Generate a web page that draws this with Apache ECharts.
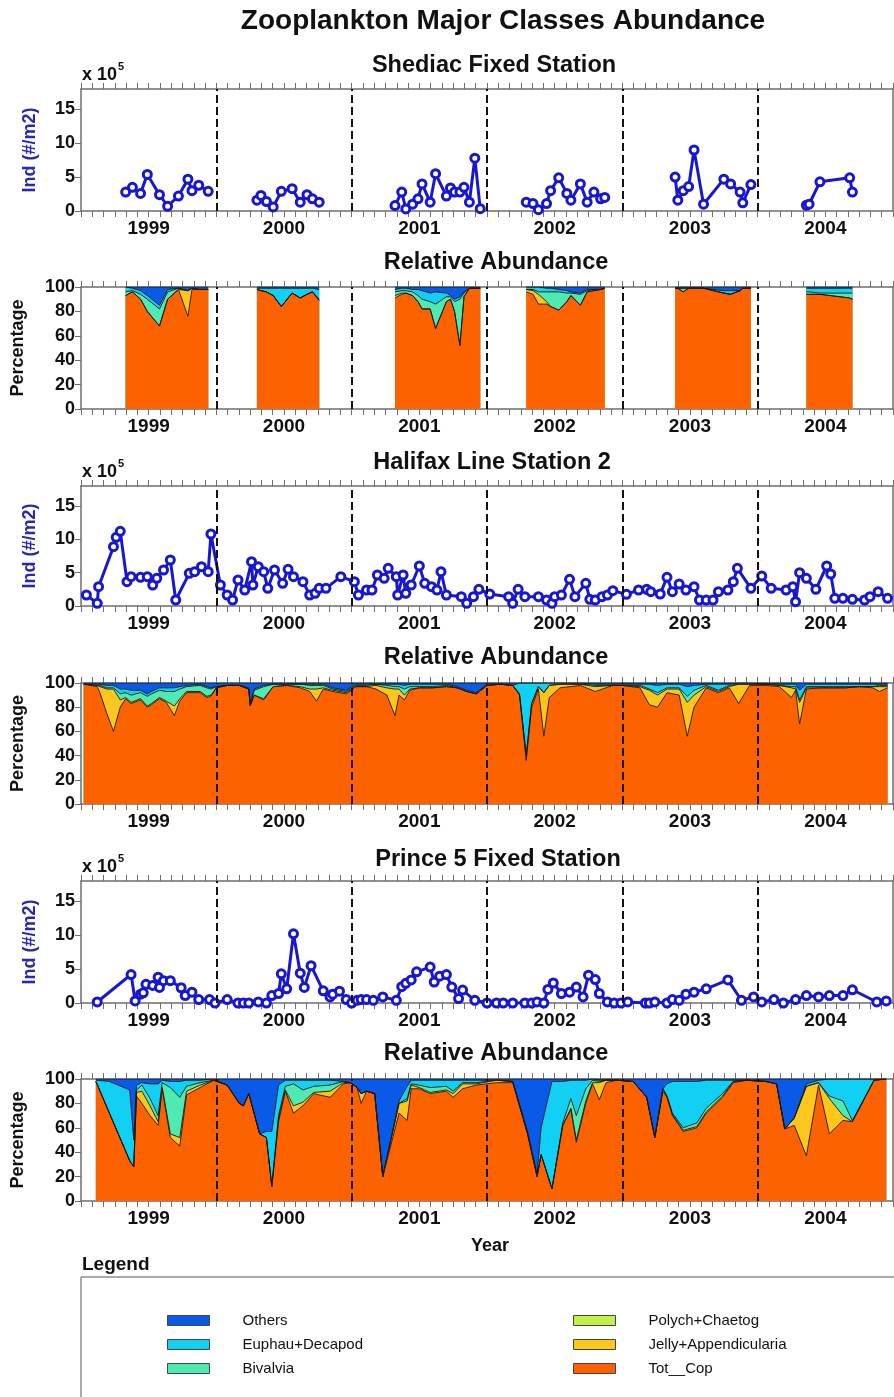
<!DOCTYPE html>
<html><head><meta charset="utf-8">
<script src="https://cdn.jsdelivr.net/npm/echarts@6/dist/echarts.min.js"></script>
<style>html,body{margin:0;padding:0;background:#fff}#c{width:894px;height:1397px}</style>
</head><body><div id="c"></div>
<script>
// ---------- categories / ticks ----------
const YEARS = ['1999','2000','2001','2002','2003','2004'];
const YEAR_BOUNDS = [2000, 2001, 2002, 2003, 2004];
const ABUND_TICKS = {min: 0, max: 18, interval: 5};
const PCT_TICKS = {min: 0, max: 100, interval: 20};

// ---------- Shediac Fixed Station ----------
const SH_DATES = [1999.33,1999.38,1999.44,1999.49,1999.58,1999.64,1999.72,1999.79,1999.82,1999.87,1999.94,
  2000.30,2000.33,2000.37,2000.42,2000.48,2000.56,2000.62,2000.67,2000.71,2000.76,
  2001.32,2001.37,2001.40,2001.45,2001.49,2001.52,2001.58,2001.62,2001.70,2001.73,2001.76,2001.80,2001.83,2001.87,2001.91,2001.95,
  2002.29,2002.34,2002.38,2002.44,2002.47,2002.53,2002.59,2002.62,2002.69,2002.74,2002.79,2002.84,2002.87,
  2003.39,2003.41,2003.45,2003.49,2003.53,2003.60,2003.75,2003.80,2003.87,2003.89,2003.95,
  2004.36,2004.38,2004.46,2004.68,2004.70];
const SH_ABUND = [2.8,3.5,2.6,5.4,2.4,0.7,2.2,4.7,3.0,3.8,2.9,
  1.6,2.3,1.4,0.6,2.9,3.3,1.3,2.4,1.8,1.3,
  0.8,2.8,0.3,1.0,1.8,4.0,1.3,5.5,2.2,3.4,2.8,2.8,3.5,1.3,7.8,0.35,
  1.3,1.1,0.2,1.1,3.0,4.9,2.6,1.6,4.0,1.3,2.8,1.8,2.0,
  5.0,1.6,3.0,3.6,9.0,1.0,4.7,4.0,2.8,1.2,3.9,
  0.85,1.0,4.3,4.9,2.8];
const SH_COP = [93,96,90,80,68,90,98,76,98,98,98, 98,97,96,93,84,95,91,94,96,89,
  91,94,95,93,88,82,82,66,88,90,80,52,92,99,99,99, 96,94,86,86,84,81,88,93,85,96,97,98,99,
  99,99,96,99,99,99,95,94,97,99,99, 94,94,94,91,90];
const SH_JELLY = [0,0,0,0,0,0,0,21,1,0,0, 0,0,0,0,0,0,0,0,0,0,
  2,1,0,0,0,0,0,0,0,0,0,0,0,0,0,0, 2,3,8,2,0,0,0,0,0,0,0,0,0,
  0,0,0,0,0,0,0,0,0,0,0, 0,0,0,0,0];
const SH_BIV = [3,1,4,10,14,6,1,0,0,0,0, 0,0,0,0,0,0,0,0,0,1,
  3,2,2,3,5,8,6,20,4,2,8,38,3,0,0,0, 0,1,2,8,12,15,7,2,9,1,1,0,0,
  0,0,3,0,0,0,0,0,0,0,0, 2,2,1,4,5];
const SH_EUPH = [4,2,3,3,3,2,0,0,0,0,0, 1,2,3,6,15,4,8,5,3,8,
  2,2,2,2,5,7,7,10,3,1,2,2,1,0,0,0, 2,2,4,3,3,2,2,1,1,1,0,0,0,
  0,0,0,0,0,0,2,3,0,0,0, 3,3,4,4,4];
const SH_OTHERS = [0,1,3,7,15,2,1,3,1,2,2, 1,1,1,1,1,1,1,1,1,2,
  2,1,1,2,2,3,5,4,5,7,10,8,4,1,1,1, 0,0,0,1,1,2,3,4,5,2,2,2,1,
  1,1,1,1,1,1,3,3,3,1,1, 1,1,1,1,1];

// ---------- Halifax Line Station 2 ----------
const HX_DATES = [1999.04,1999.12,1999.13,1999.24,1999.26,1999.29,1999.34,1999.37,1999.44,1999.49,1999.53,1999.56,1999.61,1999.66,1999.70,1999.80,1999.84,1999.89,1999.94,1999.96,
  2000.03,2000.08,2000.12,2000.16,2000.21,2000.26,2000.27,2000.31,2000.35,2000.38,2000.43,2000.49,2000.53,2000.57,2000.64,2000.69,2000.73,2000.76,2000.81,2000.92,
  2001.02,2001.05,2001.11,2001.15,2001.19,2001.24,2001.27,2001.33,2001.34,2001.38,2001.40,2001.44,2001.50,2001.54,2001.59,2001.63,2001.66,2001.70,2001.81,2001.85,2001.90,2001.94,
  2002.02,2002.16,2002.19,2002.23,2002.28,2002.38,2002.44,2002.48,2002.50,2002.55,2002.61,2002.65,2002.73,2002.76,2002.80,2002.85,2002.89,2002.93,
  2003.03,2003.12,2003.18,2003.21,2003.28,2003.33,2003.37,2003.42,2003.47,2003.53,2003.57,2003.62,2003.67,2003.71,2003.78,2003.82,2003.85,2003.95,
  2004.03,2004.10,2004.21,2004.26,2004.28,2004.31,2004.36,2004.43,2004.51,2004.54,2004.57,2004.63,2004.70,2004.79,2004.83,2004.89,2004.96];
const HX_ABUND = [1.65,0.4,2.9,8.9,10.3,11.2,3.65,4.4,4.3,4.4,3.15,4.15,5.4,6.9,0.9,4.9,5.15,5.9,5.15,10.8,
  3.15,1.65,0.9,3.9,2.4,6.65,3.15,5.9,5.15,2.65,5.4,3.4,5.5,4.4,3.65,1.65,1.9,2.65,2.65,4.4,
  3.65,1.65,2.4,2.4,4.65,4.15,5.65,4.4,1.65,4.65,1.9,3.15,6.0,3.4,2.9,2.4,5.15,1.65,1.4,0.4,1.4,2.5,
  1.8,1.4,0.4,2.5,1.4,1.4,0.9,0.4,1.4,1.65,4.0,1.4,3.4,1.0,0.9,1.4,1.65,2.3,
  1.75,2.4,2.5,2.15,1.8,4.3,2.15,3.3,2.4,2.9,0.9,0.9,0.9,2.15,2.4,3.65,5.65,2.65,
  4.5,2.65,2.4,2.9,0.65,5.0,4.15,2.5,6.0,4.8,1.15,1.15,1.0,0.9,1.4,2.15,1.15];
const HR_DATES = [1999.02,1999.12,1999.14,1999.19,1999.24,1999.29,1999.33,1999.37,1999.44,1999.49,1999.52,1999.58,1999.63,1999.69,1999.73,1999.78,1999.88,1999.93,1999.96,2000.00,
  2000.08,2000.17,2000.24,2000.25,2000.28,2000.35,2000.42,2000.52,2000.62,2000.69,2000.74,2000.79,2000.86,2000.96,
  2001.03,2001.11,2001.18,2001.26,2001.32,2001.35,2001.39,2001.43,2001.50,2001.60,2001.70,2001.78,2001.85,2001.92,
  2002.00,2002.10,2002.19,2002.24,2002.29,2002.33,2002.38,2002.42,2002.46,2002.54,2002.69,2002.80,2002.93,
  2003.00,2003.13,2003.20,2003.26,2003.33,2003.42,2003.48,2003.53,2003.62,2003.71,2003.79,2003.86,2003.94,
  2004.06,2004.16,2004.25,2004.28,2004.31,2004.36,2004.46,2004.56,2004.65,2004.75,2004.85,2004.90,2004.96];
const HR_COP = [99,97,92,75,60,80,87,83,86,80,82,87,84,73,85,92,92,88,89,96,
  98,98,95,81,90,86,97,98,96,93,85,95,93,91,
  97,97,95,90,73,90,86,94,96,96,97,96,93,91,
  98,99,98,90,36,80,95,56,88,96,98,93,98,
  98,96,82,80,92,90,56,80,96,92,96,83,98,
  98,97,88,94,66,95,96,96,96,97,96,93,96];
const HR_JELLY = [0,1,5,20,35,6,1,1,1,1,1,1,1,8,2,1,1,1,1,0,
  0,0,0,0,0,1,0,0,1,2,10,1,1,1,
  0,0,3,6,22,5,4,1,0,0,0,0,0,0,
  0,0,0,1,4,3,2,36,10,3,1,4,0,
  0,1,12,10,3,5,28,10,1,1,1,16,1,
  1,1,8,1,18,1,0,0,0,0,1,4,1];
const HR_BIV = [0,0,1,1,1,5,4,6,5,8,8,6,8,12,8,4,5,7,5,1,
  0,0,0,1,4,10,2,1,2,3,3,2,1,1,
  1,1,1,2,2,2,5,2,1,1,1,0,0,0,
  0,0,0,0,0,0,0,0,0,0,0,1,0,
  0,1,1,2,1,1,5,4,1,1,1,0,0,
  0,0,1,2,2,1,1,1,1,0,0,1,1];
const HR_EUPH = [0,1,1,2,2,4,3,4,2,2,2,2,3,3,2,1,1,1,1,0,
  0,0,1,1,1,1,0,0,0,1,1,1,1,1,
  1,1,0,1,2,2,3,2,2,2,1,1,1,1,
  1,0,0,9,60,17,3,8,2,1,1,1,1,
  1,1,4,6,3,3,8,4,1,5,1,1,1,
  0,1,2,2,8,2,2,2,2,2,2,1,1];
const HR_OTHERS = [1,1,1,2,2,5,5,6,6,9,7,4,4,4,3,2,1,3,4,3,
  2,2,4,17,5,2,1,1,1,1,1,1,4,6,
  1,1,1,1,1,1,2,1,1,1,1,3,6,8,
  1,1,2,0,0,0,0,0,0,0,0,1,1,
  1,1,1,2,1,1,3,2,1,1,1,0,0,
  1,1,1,1,6,1,1,1,1,1,1,1,1];

// ---------- Prince 5 Fixed Station ----------
const PR_DATES = [1999.12,1999.37,1999.40,1999.44,1999.46,1999.48,1999.53,1999.57,1999.58,1999.61,1999.66,1999.74,1999.77,1999.82,1999.87,1999.95,1999.99,
  2000.08,2000.16,2000.20,2000.24,2000.31,2000.37,2000.41,2000.46,2000.48,2000.52,2000.57,2000.62,2000.65,2000.70,2000.79,2000.84,2000.86,2000.91,2000.96,
  2001.00,2001.04,2001.07,2001.11,2001.16,2001.23,2001.33,2001.37,2001.40,2001.44,2001.48,2001.58,2001.61,2001.65,2001.70,2001.74,2001.79,2001.82,2001.91,
  2002.00,2002.07,2002.12,2002.19,2002.28,2002.33,2002.37,2002.42,2002.45,2002.49,2002.55,2002.61,2002.66,2002.71,2002.75,2002.80,2002.83,2002.89,2002.94,2002.99,
  2003.04,2003.17,2003.20,2003.24,2003.33,2003.37,2003.42,2003.47,2003.53,2003.62,2003.78,2003.88,2003.97,
  2004.03,2004.12,2004.19,2004.28,2004.36,2004.45,2004.53,2004.63,2004.70,2004.88,2004.95];
const PR_ABUND = [0.15,4.2,0.3,1.3,1.5,2.75,2.6,3.8,2.3,3.3,3.3,2.25,1.1,1.6,0.5,0.5,0.0,
  0.5,0.0,0.0,0.0,0.15,0.0,1.1,1.4,4.3,2.1,10.2,4.4,2.3,5.5,1.8,0.9,1.3,1.75,0.5,
  0.0,0.4,0.5,0.5,0.4,0.9,0.4,2.4,2.9,3.4,4.6,5.3,3.1,3.95,4.2,2.35,0.65,1.9,0.4,
  0.0,0.0,0.0,0.0,0.0,0.0,0.15,0.0,2.0,2.95,1.4,1.6,2.35,0.9,4.1,3.45,1.4,0.15,0.0,0.0,
  0.15,0.0,0.0,0.15,0.0,0.5,0.4,1.3,1.6,2.1,3.4,0.4,0.9,
  0.15,0.5,0.0,0.5,1.1,0.9,1.1,1.1,1.95,0.15,0.3];
const PRR_DATES = [1999.11,1999.21,1999.36,1999.39,1999.41,1999.45,1999.51,1999.57,1999.60,1999.66,1999.73,1999.78,1999.88,1999.98,
  2000.08,2000.17,2000.20,2000.24,2000.32,2000.37,2000.41,2000.46,2000.51,2000.57,2000.64,2000.72,2000.84,2000.94,2000.99,
  2001.04,2001.07,2001.11,2001.17,2001.23,2001.35,2001.41,2001.44,2001.50,2001.58,2001.70,2001.75,2001.82,2001.92,
  2002.07,2002.19,2002.30,2002.37,2002.40,2002.48,2002.56,2002.62,2002.66,2002.73,2002.78,2002.83,2002.88,2002.96,
  2003.08,2003.18,2003.24,2003.30,2003.33,2003.37,2003.45,2003.55,2003.62,2003.74,2003.82,2003.92,
  2004.06,2004.14,2004.20,2004.27,2004.36,2004.45,2004.53,2004.63,2004.70,2004.86,2004.95];
const PRR_COP = [98,72,33,28,86,80,70,62,92,52,45,87,93,99,
  95,80,78,88,55,52,12,65,90,72,78,88,85,96,97,
  93,80,90,88,20,72,66,92,92,88,90,85,92,95,
  97,97,55,20,38,10,62,75,48,80,96,83,97,99,
  98,85,52,90,85,70,57,60,72,85,97,99,
  98,96,59,62,37,95,55,66,65,99,100];
const PRR_JELLY = [0,0,0,0,3,10,8,3,1,3,7,3,2,0,
  0,0,0,0,0,0,0,3,1,6,3,1,5,1,0,
  0,8,0,0,0,8,16,3,1,1,1,3,4,1,
  2,1,0,0,0,0,0,1,2,2,1,14,2,0,
  0,0,0,2,1,1,1,1,1,1,1,0,
  0,0,0,6,57,2,29,4,0,0,0];
const PRR_BIV = [0,0,0,0,2,5,6,5,4,38,33,4,2,0,
  0,0,0,0,0,0,0,2,3,18,10,5,5,1,0,
  0,0,0,0,0,0,2,1,2,4,3,2,1,1,
  0,0,0,0,0,0,2,8,20,10,2,1,0,0,
  0,0,0,0,0,1,2,3,3,2,0,0,
  0,0,0,0,0,0,2,12,1,0,0];
const PRR_EUPH = [1,26,58,22,4,2,12,26,2,5,13,5,2,1,
  0,0,0,0,0,5,45,25,5,3,8,5,4,0,0,
  0,0,0,0,0,2,10,3,4,6,5,9,2,2,
  0,0,2,2,22,88,34,15,29,7,1,1,0,0,
  0,0,0,0,10,26,38,34,23,11,1,0,
  0,0,0,0,2,2,14,18,34,1,0];
const PRR_OTHERS = [1,2,9,50,5,3,4,4,1,2,2,1,1,0,
  5,20,22,12,45,43,43,5,1,1,1,1,1,2,3,
  7,12,10,12,80,18,6,1,1,1,1,1,1,1,
  1,2,43,78,40,2,2,1,1,1,0,1,1,1,
  2,15,48,8,4,2,2,2,1,1,1,1,
  2,4,41,32,4,1,0,0,0,0,0];

// ---------- classes / colours ----------
const CLASS_NAMES = ['Others','Euphau+Decapod','Bivalvia','Polych+Chaetog','Jelly+Appendicularia','Tot__Cop'];
const CLASS_COLORS = {
  'Others':'#0a5ae8', 'Euphau+Decapod':'#12d0f4', 'Bivalvia':'#4eeab0',
  'Polych+Chaetog':'#c4f04c', 'Jelly+Appendicularia':'#fdc61c', 'Tot__Cop':'#fd6200'
};

// ---------- layout ----------
const FONT = "'Liberation Sans', Arial, Helvetica, sans-serif";
const AX = '#6e6e6e';
const GRID_TOPS = [89, 287, 486, 683, 881, 1079];
const GRID_HEIGHTS = [122, 122, 120, 121, 122, 122];
const PANEL_TITLES = ['Shediac Fixed Station','Relative Abundance','Halifax Line Station 2','Relative Abundance','Prince 5 Fixed Station','Relative Abundance'];
const TITLE_POS = [[494,66],[496,263],[492,463],[496,658],[498,860],[496,1054]];

const toX = d => Math.round((d - 1999) * 12 * 1000) / 1000;
function pairs(dates, vals, split) {
  const out = [];
  for (let i = 0; i < dates.length; i++) {
    if (split && i > 0 && Math.floor(dates[i]) !== Math.floor(dates[i - 1])) {
      out.push([toX(Math.floor(dates[i])), null]);
    }
    out.push([toX(dates[i]), vals[i]]);
  }
  return out;
}

const PANELS = [
  {kind:'abund', dates:SH_DATES, vals:SH_ABUND, split:true},
  {kind:'rel', dates:SH_DATES, split:true, cls:{'Tot__Cop':SH_COP,'Jelly+Appendicularia':SH_JELLY,'Bivalvia':SH_BIV,'Euphau+Decapod':SH_EUPH,'Others':SH_OTHERS}},
  {kind:'abund', dates:HX_DATES, vals:HX_ABUND, split:false},
  {kind:'rel', dates:HR_DATES, split:false, cls:{'Tot__Cop':HR_COP,'Jelly+Appendicularia':HR_JELLY,'Bivalvia':HR_BIV,'Euphau+Decapod':HR_EUPH,'Others':HR_OTHERS}},
  {kind:'abund', dates:PR_DATES, vals:PR_ABUND, split:false},
  {kind:'rel', dates:PRR_DATES, split:false, cls:{'Tot__Cop':PRR_COP,'Jelly+Appendicularia':PRR_JELLY,'Bivalvia':PRR_BIV,'Euphau+Decapod':PRR_EUPH,'Others':PRR_OTHERS}}
];
// bottom -> top order of the stacked percentages
const STACK_ORDER = ['Tot__Cop','Jelly+Appendicularia','Bivalvia','Euphau+Decapod','Others'];

const grid = [], xAxis = [], yAxis = [], series = [];
const markLine = {
  silent: true, symbol: ['none','none'], label: {show:false}, animation: false,
  lineStyle: {color:'#111', type:[8,4], width:2}, emphasis: {disabled:true},
  data: YEAR_BOUNDS.map(y => ({xAxis: toX(y)}))
};

PANELS.forEach((p, i) => {
  const abund = p.kind === 'abund';
  const tk = abund ? ABUND_TICKS : PCT_TICKS;
  grid.push({left:81, top:GRID_TOPS[i], width:812, height:GRID_HEIGHTS[i], outerBoundsMode:'none', containLabel:false});
  const valueX = pos => ({
    type:'value', gridIndex:i, position:pos, min:0, max:72, interval:1,
    axisLine:{show:true, onZero:false, lineStyle:{color:AX, width:1.5}},
    axisTick:{show:true, inside:false, length:6, lineStyle:{color:AX, width:1}},
    axisLabel:{show:false}, splitLine:{show:false}
  });
  xAxis.push(valueX('bottom'));
  xAxis.push(valueX('top'));
  xAxis.push({type:'category', gridIndex:i, position:'bottom', data:YEARS, boundaryGap:true,
    axisLine:{show:false}, axisTick:{show:false}, splitLine:{show:false},
    axisLabel:{show:true, margin:8, fontFamily:FONT, fontWeight:'bold', fontSize:19, color:'#111'}});
  yAxis.push({type:'value', gridIndex:i, position:'left', min:tk.min, max:tk.max, interval:tk.interval,
    axisLine:{show:true, onZero:false, lineStyle:{color:AX, width:1.5}},
    axisTick:{show:true, length:6, lineStyle:{color:AX}},
    axisLabel:{fontFamily:FONT, fontWeight:'bold', fontSize:18, color:'#111', margin:6, showMaxLabel: abund ? false : true},
    splitLine:{show:false},
    name: abund ? 'Ind (#/m2)' : 'Percentage', nameLocation:'middle', nameGap: abund ? 42 : 54,
    nameTextStyle:{fontFamily:FONT, fontWeight:'bold', fontSize:18, color: abund ? '#2828b4' : '#111'}});
  yAxis.push({type:'value', gridIndex:i, position:'right', min:tk.min, max:tk.max,
    axisLine:{show:true, onZero:false, lineStyle:{color:AX, width:1.5}},
    axisTick:{show:false}, axisLabel:{show:false}, splitLine:{show:false}});

  const xi = i * 3, yi = i * 2;
  if (abund) {
    series.push({type:'line', name:PANEL_TITLES[i], xAxisIndex:xi, yAxisIndex:yi,
      data: pairs(p.dates, p.vals, p.split), connectNulls:false,
      symbol:'circle', symbolSize:8, showSymbol:true,
      lineStyle:{color:'#1717d0', width:3},
      itemStyle:{color:'#ffffff', borderColor:'#1717d0', borderWidth:3},
      emphasis:{disabled:true}, animation:false, z:3, markLine});
  } else {
    // cumulative boundaries (percentages added bottom-up), drawn top layer first
    const cum = [];
    let run = p.dates.map(() => 0);
    STACK_ORDER.forEach(name => {
      run = run.map((v, j) => v + p.cls[name][j]);
      cum.push({name, vals: run.slice()});
    });
    cum.reverse().forEach((layer, k) => {
      const s = {type:'line', name:layer.name, xAxisIndex:xi, yAxisIndex:yi,
        data: pairs(p.dates, layer.vals, p.split), connectNulls:false,
        symbol:'none', showSymbol:false,
        lineStyle:{color:'#1a1a1a', width:0.9},
        areaStyle:{color:CLASS_COLORS[layer.name], opacity:1, origin:'start'},
        itemStyle:{color:CLASS_COLORS[layer.name]},
        emphasis:{disabled:true}, animation:false, z:2};
      if (k === cum.length - 1) s.markLine = markLine;
      series.push(s);
    });
  }
});
// Legend-only entry (class not drawn in the panels)
series.push({type:'line', name:'Polych+Chaetog', xAxisIndex:3, yAxisIndex:2, data:[],
  itemStyle:{color:CLASS_COLORS['Polych+Chaetog']}, symbol:'none', animation:false});

const graphic = [
  {type:'text', x:503, y:21, style:{text:'Zooplankton Major Classes Abundance', font:"bold 28px " + FONT, fill:'#111', align:'center', verticalAlign:'middle'}},
  {type:'text', x:490, y:1246, style:{text:'Year', font:"bold 18px " + FONT, fill:'#111', align:'center', verticalAlign:'middle'}},
  {type:'text', x:82, y:1265, style:{text:'Legend', font:"bold 19px " + FONT, fill:'#111', align:'left', verticalAlign:'middle'}},
  {type:'rect', shape:{x:81, y:1277, width:830, height:140}, style:{fill:'none', stroke:'#555', lineWidth:1}}
];
PANEL_TITLES.forEach((t, i) => {
  graphic.push({type:'text', x:TITLE_POS[i][0], y:TITLE_POS[i][1], style:{text:t, font:"bold 23.5px " + FONT, fill:'#111', align:'center', verticalAlign:'middle'}});
});
[0, 2, 4].forEach(i => {
  const cy = GRID_TOPS[i] - 14;
  graphic.push({type:'text', x:82, y:cy, style:{text:'x 10', font:"bold 18px " + FONT, fill:'#111', align:'left', verticalAlign:'middle'}});
  graphic.push({type:'text', x:118, y:cy - 8, style:{text:'5', font:"bold 11px " + FONT, fill:'#111', align:'left', verticalAlign:'middle'}});
});

const legendBase = {orient:'vertical', top:1308, itemWidth:42, itemHeight:10, itemGap:9, icon:'rect',
  selectedMode:false, itemStyle:{borderColor:'#444', borderWidth:1},
  textStyle:{fontFamily:FONT, fontSize:15, color:'#111', padding:[0,0,0,28]}};
const legend = [
  Object.assign({}, legendBase, {left:162, data:CLASS_NAMES.slice(0,3)}),
  Object.assign({}, legendBase, {left:568, data:CLASS_NAMES.slice(3,6)})
];

const chart = echarts.init(document.getElementById('c'), null, {renderer:'canvas'});
chart.setOption({backgroundColor:'#ffffff', animation:false, grid, xAxis, yAxis, series, legend, graphic, tooltip:{show:false}});
</script></body></html>
